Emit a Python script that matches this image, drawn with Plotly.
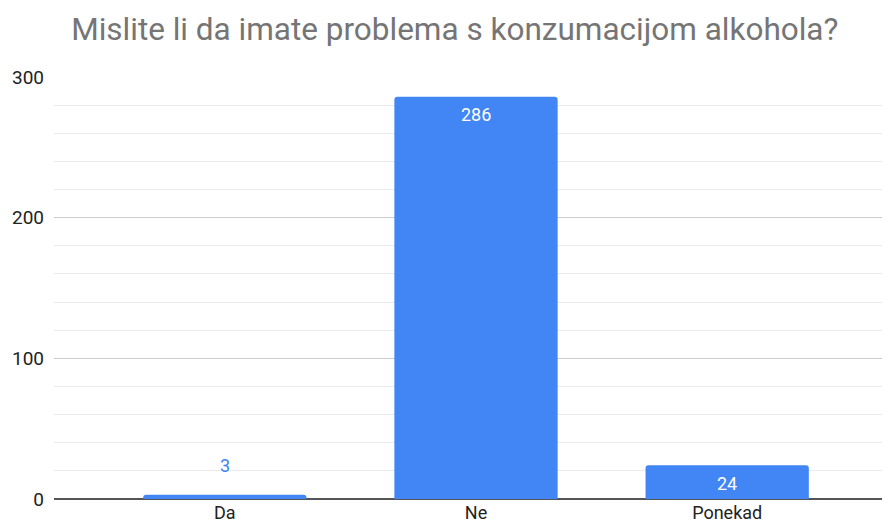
import plotly.graph_objects as go

categories = ["Da", "Ne", "Ponekad"]
values = [3, 286, 24]
title_text = "Mislite li da imate problema s konzumacijom alkohola?"
y_ticks = [0, 100, 200, 300]

BAR = "#4285F4"

fig = go.Figure()
fig.add_trace(go.Bar(
    x=categories, y=values, width=0.65,
    marker=dict(color=BAR, line=dict(width=0)),
    hoverinfo="skip",
))

# data labels: inside near top when bar is tall enough, otherwise above
annotations = []
for c, v in zip(categories, values):
    inside = v >= 15
    annotations.append(dict(
        x=c, y=v, xref="x", yref="y", text=str(v), showarrow=False,
        yanchor="middle", yshift=-18 if inside else 29,
        font=dict(family="Roboto", size=18, color="#ffffff" if inside else BAR),
    ))

fig.update_layout(
    width=890, height=526,
    margin=dict(l=46, r=0, t=69, b=35),
    paper_bgcolor="white", plot_bgcolor="white",
    title=dict(text=title_text, x=0.502, xanchor="center", y=0.960, yanchor="middle",
               font=dict(family="Roboto", size=31.5, color="#757575")),
    barcornerradius=3,
    showlegend=False,
    annotations=annotations,
    font=dict(family="Roboto", size=18, color="#222222"),
)
fig.update_xaxes(
    type="category", range=[-0.68, 2.68], showgrid=False, showline=False,
    ticks="", tickfont=dict(size=18, color="#222222"), ticklabelstandoff=1,
)
fig.update_yaxes(
    range=[0, 300], tickvals=y_ticks, showgrid=True, gridcolor="#cccccc", gridwidth=1,
    zeroline=True, zerolinecolor="#555555", zerolinewidth=1.5,
    minor=dict(dtick=20, tick0=0, showgrid=True, gridcolor="#ebebeb", gridwidth=1),
    ticks="", tickfont=dict(size=19, color="#222222"), ticklabelstandoff=9,
)

fig.write_html("out.html")
